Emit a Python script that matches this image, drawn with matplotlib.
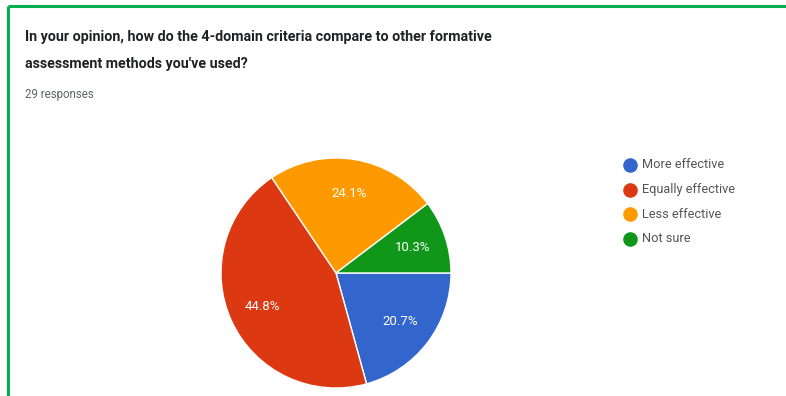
import matplotlib
matplotlib.use("Agg")
import matplotlib.pyplot as plt
from matplotlib.lines import Line2D

# Survey results (29 responses)
title_lines = [
    "In your opinion, how do the 4-domain criteria compare to other formative",
    "assessment methods you've used?",
]
subtitle = "29 responses"
categories = ["More effective", "Equally effective", "Less effective", "Not sure"]
percentages = [20.7, 44.8, 24.1, 10.3]
colors = ["#3366CC", "#DC3912", "#FF9900", "#109618"]

W, H = 786, 396
fig = plt.figure(figsize=(W / 100, H / 100), dpi=100)
fig.patch.set_facecolor("white")

# One axes spanning the figure, in pixel units with the origin at top-left
ax = fig.add_axes([0, 0, 1, 1])

wedges, texts, autotexts = ax.pie(
    percentages,
    colors=colors,
    startangle=0,
    counterclock=True,
    center=(336, 273),
    radius=115,
    autopct=lambda p: f"{p:.1f}%",
    pctdistance=0.70,
    wedgeprops=dict(edgecolor="white", linewidth=1.0),
    textprops=dict(color="white", fontsize=9.5, family="Roboto"),
)
ax.set_xlim(0, W)
ax.set_ylim(H, 0)
ax.set_aspect("auto")
ax.axis("off")

# Frame lines on the card
border = "#00B050"
ax.add_line(Line2D([8, W], [6, 6], color=border, lw=2.2, solid_capstyle="butt"))
ax.add_line(Line2D([8, 8], [6, H], color=border, lw=2.2, solid_capstyle="butt"))

# Header text
title_kw = dict(fontsize=10.3, family="Roboto", weight="bold", color="#202124",
                va="baseline", ha="left")
ax.text(25, 41, title_lines[0], **title_kw)
ax.text(25, 68, title_lines[1], **title_kw)
ax.text(25, 98, subtitle, fontsize=8.3, family="Roboto", color="#5f6368",
        va="baseline", ha="left")

# Legend
legend_y = [165, 190, 214, 239]
for label, col, y in zip(categories, colors, legend_y):
    ax.plot(630, y, marker="o", markersize=10.5, color=col, markeredgewidth=0)
    ax.text(642, y, label, fontsize=9.2, family="Roboto", color="#555555",
            va="center", ha="left")

fig.savefig("out.png", dpi=100, facecolor="white")
